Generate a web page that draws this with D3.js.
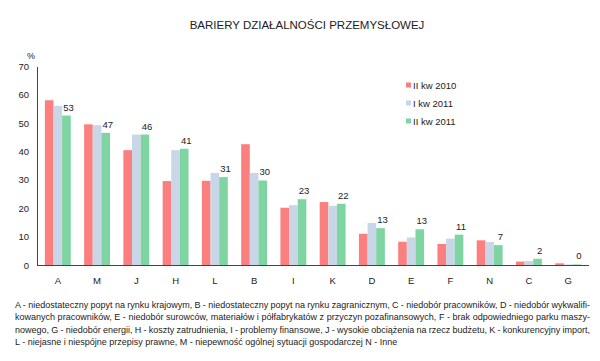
<!DOCTYPE html>
<html>
<head>
<meta charset="utf-8">
<script src="https://cdn.jsdelivr.net/npm/d3@7"></script>
<style>
  body { margin: 0; background: #fff; }
  text { font-family: "Liberation Sans", Arial, sans-serif; fill: #222; }
</style>
</head>
<body>
<div id="chart"></div>
<script>
// data
var categories = ["A", "M", "J", "H", "L", "B", "I", "K", "D", "E", "F", "N", "C", "G"];
var seriesNames = ["II kw 2010", "I kw 2011", "II kw 2011"];
var q2010 = [58.1, 49.6, 40.5, 29.6, 29.7, 42.6, 20.2, 22.2, 11.0, 8.2, 7.4, 8.7, 1.2, 0.6];
var q1_2011 = [56.1, 49.3, 46.0, 40.5, 32.5, 32.5, 21.1, 20.9, 14.8, 9.7, 9.3, 8.1, 1.4, 0.2];
var q2_2011 = [52.7, 46.6, 46.0, 41.0, 31.0, 29.8, 23.2, 21.6, 13.0, 12.6, 10.7, 7.0, 2.2, 0.2];
var valueLabels = ["53", "47", "46", "41", "31", "30", "23", "22", "13", "13", "11", "7", "2", "0"];
var yTicks = [0, 10, 20, 30, 40, 50, 60, 70];
var footnote = [
  "A - niedostateczny popyt na rynku krajowym, B - niedostateczny popyt na rynku zagranicznym, C - niedobór pracowników, D - niedobór wykwalifi-",
  "kowanych pracowników, E - niedobór surowców, materiałów i półfabrykatów z przyczyn pozafinansowych, F - brak odpowiedniego parku maszy-",
  "nowego, G - niedobór energii, H - koszty zatrudnienia, I - problemy finansowe, J - wysokie obciążenia na rzecz budżetu, K - konkurencyjny import,",
  "L - niejasne i niespójne przepisy prawne, M - niepewność ogólnej sytuacji gospodarczej N - Inne"
];

var svgWidth = 600;
var svgHeight = 361;
var colors = ["#fc7f7f", "#c8d6e7", "#7fd5a2"];

var svg = d3.select("#chart")
  .append("svg")
  .attr("width", svgWidth)
  .attr("height", svgHeight);

// scales
var x = d3.scaleBand()
  .domain(categories)
  .range([37, 589])
  .paddingInner(0.34)
  .paddingOuter(0.2);

var xSub = d3.scaleBand()
  .domain(seriesNames)
  .range([0, x.bandwidth()]);

var y = d3.scaleLinear()
  .domain([0, 70])
  .range([265, 66.5]);

// title
svg.append("text")
  .attr("x", 307)
  .attr("y", 29)
  .attr("text-anchor", "middle")
  .attr("font-size", "11.5px")
  .text("BARIERY DZIAŁALNOŚCI PRZEMYSŁOWEJ");

// y axis
var leftAxis = d3.axisLeft(y).tickValues(yTicks).tickSize(0).tickPadding(8);
var yAxisG = svg.append("g")
  .attr("transform", "translate(37,0)")
  .call(leftAxis);
yAxisG.select(".domain").attr("stroke", "#444");
yAxisG.selectAll("text")
  .attr("font-size", "9.5px")
  .attr("fill", "#222")
  .style("font-family", "Liberation Sans, Arial, sans-serif");

svg.append("text")
  .attr("x", 27)
  .attr("y", 59)
  .attr("font-size", "9px")
  .text("%");

// bars
var series = [q2010, q1_2011, q2_2011];
series.forEach(function(vals, si) {
  svg.append("g")
    .selectAll("rect")
    .data(vals)
    .enter()
    .append("rect")
    .attr("x", (d, i) => x(categories[i]) + xSub(seriesNames[si]))
    .attr("y", d => y(d))
    .attr("width", xSub.bandwidth())
    .attr("height", d => y(0) - y(d))
    .attr("fill", colors[si]);
});

// value labels above green bars
svg.append("g")
  .selectAll("text")
  .data(q2_2011)
  .enter()
  .append("text")
  .attr("x", (d, i) => x(categories[i]) + xSub(seriesNames[2]) + xSub.bandwidth() / 2 + 2)
  .attr("y", d => y(d) - 5)
  .attr("text-anchor", "middle")
  .attr("font-size", "9.5px")
  .text((d, i) => valueLabels[i]);

// x axis
var bottomAxis = d3.axisBottom(x).tickSize(0).tickPadding(12);
var xAxisG = svg.append("g")
  .attr("transform", "translate(0,265)")
  .call(bottomAxis);
xAxisG.select(".domain").attr("stroke", "#444").attr("d", "M37,0.5H589");
xAxisG.selectAll("text")
  .attr("font-size", "9.5px")
  .attr("fill", "#222")
  .style("font-family", "Liberation Sans, Arial, sans-serif");

// legend
var legend = svg.append("g");
seriesNames.forEach(function(name, i) {
  var ly = 85 + i * 18;
  legend.append("rect")
    .attr("x", 406)
    .attr("y", ly - 2.5)
    .attr("width", 5)
    .attr("height", 5)
    .attr("fill", colors[i]);
  legend.append("text")
    .attr("x", 413)
    .attr("y", ly + 3.5)
    .attr("font-size", "9.5px")
    .text(name);
});

// footnote, justified lines
var footLeft = 15, footRight = 590;
footnote.forEach(function(line, i) {
  var t = svg.append("text")
    .attr("x", footLeft)
    .attr("y", 308 + i * 12.3)
    .attr("font-size", "9px")
    .text(line);
  if (i < footnote.length - 1) {
    var natural = t.node().getComputedTextLength();
    var spaces = line.split(" ").length - 1;
    var extra = (footRight - footLeft - natural) / spaces;
    t.attr("word-spacing", extra);
  }
});
</script>
</body>
</html>
